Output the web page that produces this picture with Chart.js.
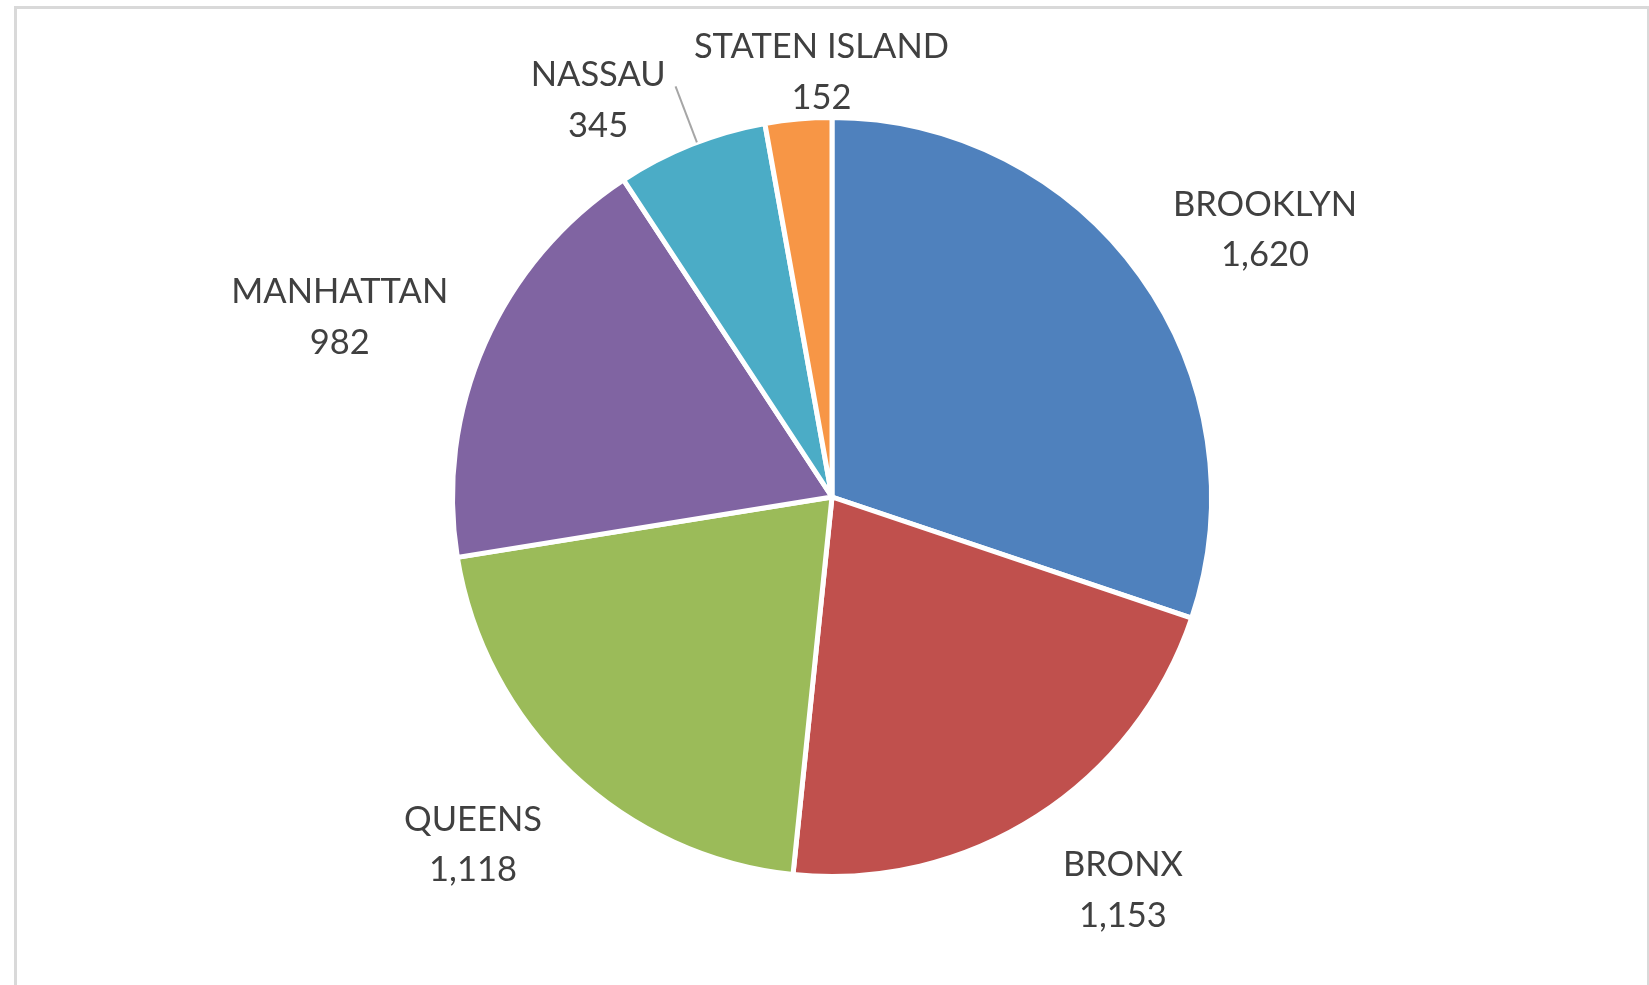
<!DOCTYPE html>
<html>
<head>
<meta charset="utf-8">
<title>Cases by borough</title>
<script src="https://cdn.jsdelivr.net/npm/chart.js@4.4.1/dist/chart.umd.min.js"></script>
<style>
  html, body { margin: 0; padding: 0; background: #fff; overflow: hidden; }
  #frame {
    position: absolute; left: 14px; top: 6px;
    width: 1630px; height: 1000px;
    border: 3px solid #d9d9d9;
  }
  #chart { position: absolute; left: 0; top: 0; }
</style>
</head>
<body>
<div id="frame"></div>
<canvas id="chart" width="1649" height="985"></canvas>
<script>
// data, clockwise from 12 o'clock
const boroughs = ['BROOKLYN', 'BRONX', 'QUEENS', 'MANHATTAN', 'NASSAU', 'STATEN ISLAND'];
const counts = [1620, 1153, 1118, 982, 345, 152];
const sliceColors = ['#4F81BD', '#C0504D', '#9BBB59', '#8064A2', '#4BACC6', '#F79646'];

// Excel-style "best fit" labels outside the pie
const outsideLabels = {
    id: 'outsideLabels',
    afterDatasetsDraw(chart, args, opts) {
        const ctx = chart.ctx;
        const meta = chart.getDatasetMeta(0);
        const values = chart.data.datasets[0].data;
        const lineH = opts.lineHeight;
        ctx.save();
        ctx.font = opts.font;
        ctx.fillStyle = opts.color;
        ctx.textAlign = 'center';
        ctx.textBaseline = 'middle';

        meta.data.forEach((arc, i) => {
            const {x, y, startAngle, endAngle, outerRadius} =
                arc.getProps(['x', 'y', 'startAngle', 'endAngle', 'outerRadius'], true);
            const lines = [chart.data.labels[i], values[i].toLocaleString('en-US')];
            const w = Math.max(...lines.map(t => ctx.measureText(t).width));
            // text box: half a line above the first line, a bit less below the last
            const h = lineH * lines.length - opts.bottomTrim;
            const a = (startAngle + endAngle) / 2 + (opts.turn[i] || 0) * Math.PI / 180;
            const dx = Math.cos(a), dy = Math.sin(a);
            let cx, top;

            if (opts.leader[i]) {
                const ex = x + dx * (outerRadius + opts.gap[i]);
                const ey = y + dy * (outerRadius + opts.gap[i]);
                ctx.beginPath();
                ctx.moveTo(x + dx * outerRadius, y + dy * outerRadius);
                ctx.lineTo(ex, ey);
                ctx.strokeStyle = opts.leaderColor;
                ctx.lineWidth = 2;
                ctx.stroke();
                const side = dx < 0 ? -1 : 1;
                cx = ex + side * (10 + w / 2);
                top = ey - 11 - lineH / 2;
            } else {
                const px = x + dx * (outerRadius + opts.gap[i]);
                const py = y + dy * (outerRadius + opts.gap[i]);
                cx = Math.abs(dx) < 0.3 ? px : px + Math.sign(dx) * w / 2;
                if (Math.abs(dy) < 0.3) top = py - h / 2;
                else top = dy > 0 ? py : py - h;
            }
            lines.forEach((t, k) => ctx.fillText(t, cx, top + lineH * (k + 0.5)));
        });
        ctx.restore();
    }
};

const ctx = document.getElementById('chart').getContext('2d');
new Chart(ctx, {
    type: 'pie',
    data: {
        labels: boroughs,
        datasets: [{
            data: counts,
            backgroundColor: sliceColors,
            borderColor: '#ffffff',
            borderWidth: 5
        }]
    },
    options: {
        responsive: false,
        animation: false,
        layout: {
            padding: { left: 450, right: 435, top: 115, bottom: 106 }
        },
        plugins: {
            legend: { display: false },
            tooltip: { enabled: false },
            outsideLabels: {
                font: '34.5px Lato',
                color: '#404040',
                lineHeight: 50.5,
                bottomTrim: 5,
                leaderColor: '#a6a6a6',
                gap: [27, 34, 36, 27, 60, 0],
                turn: [2.7, -1.2, 0.9, -4.5, 0.9, 3.5],
                leader: [false, false, false, false, true, false]
            }
        }
    },
    plugins: [outsideLabels]
});
</script>
</body>
</html>
